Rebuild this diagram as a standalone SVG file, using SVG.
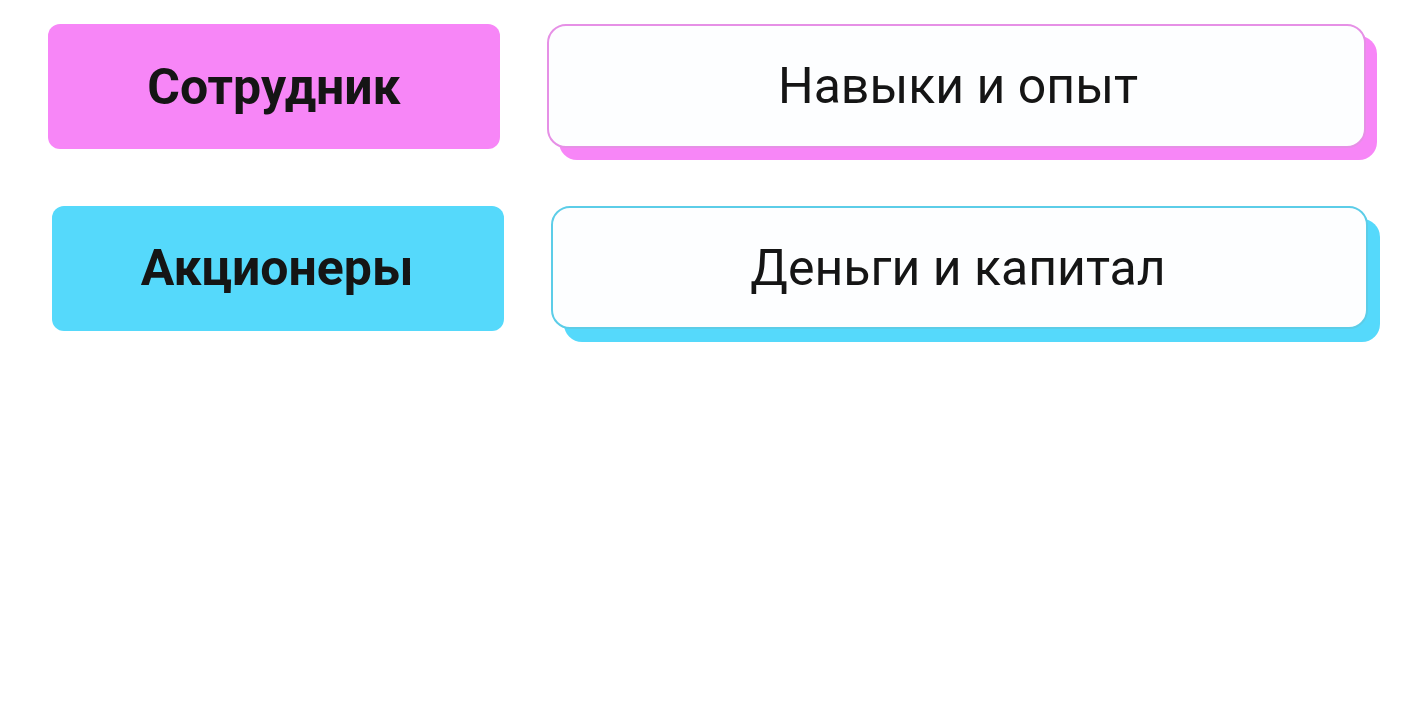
<svg xmlns="http://www.w3.org/2000/svg" width="1422" height="727" viewBox="0 0 1422 727">
<style>
.lbl{font-family:Roboto,"Liberation Sans",sans-serif;font-size:50px;text-anchor:middle;fill:#151515}
.b{font-weight:bold}
.card{fill:#fdfeff;stroke-width:2}
</style>
<rect width="1422" height="727" fill="#ffffff"/>
<g id="node-employee">
<rect x="48" y="24" width="452" height="125" rx="12" fill="#f786f7"/>
<text class="lbl b" x="274" y="104">Сотрудник</text>
</g>
<g id="node-skills">
<rect x="559" y="36" width="818" height="124" rx="18" fill="#f786f7"/>
<rect class="card" x="548" y="25" width="817" height="122" rx="18" stroke="#e690e6"/>
<text class="lbl" x="958" y="103">Навыки и опыт</text>
</g>
<g id="node-shareholders">
<rect x="52" y="206" width="452" height="125" rx="12" fill="#55d9fb"/>
<text class="lbl b" x="277" y="285">Акционеры</text>
</g>
<g id="node-money">
<rect x="564" y="219" width="816" height="123" rx="18" fill="#55d9fb"/>
<rect class="card" x="552" y="207" width="815" height="121" rx="18" stroke="#5ccde8"/>
<text class="lbl" x="958" y="285">Деньги и капитал</text>
</g>
<g id="connectors"></g>
</svg>
